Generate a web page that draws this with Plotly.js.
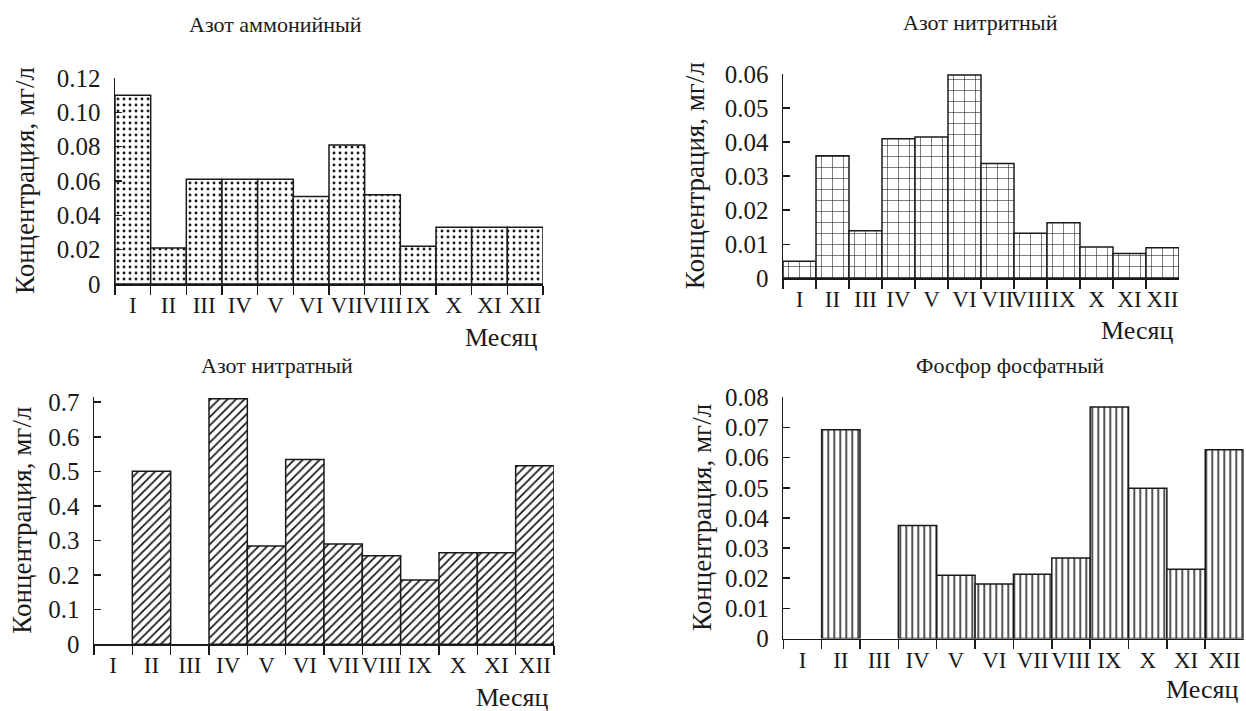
<!DOCTYPE html>
<html>
<head>
<meta charset="utf-8">
<script src="https://cdn.plot.ly/plotly-3.0.1.min.js"></script>
<style>html,body{margin:0;padding:0;background:#fff;}#chart{width:1246px;height:711px;}</style>
</head>
<body>
<div id="chart"></div>
<script>
const months = ['I','II','III','IV','V','VI','VII','VIII','IX','X','XI','XII'];
const ammonium = [0.110,0.021,0.061,0.061,0.061,0.051,0.081,0.052,0.022,0.033,0.033,0.033];
const nitrite = [0.005,0.036,0.014,0.041,0.0415,0.0597,0.0337,0.0132,0.0163,0.0092,0.0073,0.009];
const nitrate = [null,0.50,null,0.71,0.284,0.534,0.29,0.256,0.186,0.265,0.265,0.516];
const phosphate = [null,0.0692,null,0.0375,0.021,0.0181,0.0213,0.0267,0.0768,0.0498,0.023,0.0626];

const titles = ['Азот аммонийный','Азот нитритный','Азот нитратный','Фосфор фосфатный'];
const yTitle = 'Концентрация, мг/л';
const xTitle = 'Месяц';

const ticks1 = [0,0.02,0.04,0.06,0.08,0.10,0.12];
const tickText1 = ['0','0.02','0.04','0.06','0.08','0.10','0.12'];
const ticks2 = [0,0.01,0.02,0.03,0.04,0.05,0.06];
const tickText2 = ['0','0.01','0.02','0.03','0.04','0.05','0.06'];
const ticks3 = [0,0.1,0.2,0.3,0.4,0.5,0.6,0.7];
const tickText3 = ['0','0.1','0.2','0.3','0.4','0.5','0.6','0.7'];
const ticks4 = [0,0.01,0.02,0.03,0.04,0.05,0.06,0.07,0.08];
const tickText4 = ['0','0.01','0.02','0.03','0.04','0.05','0.06','0.07','0.08'];

const W = 1246, H = 711;
const FONT = 'Liberation Serif, Times New Roman, serif';
const ink = '#1a1a1a';

function px(x){return x/W;}
function py(y){return 1-y/H;}

const panels = [
  {vals: ammonium, x0:115, x1:543, yb:284, yt:78, range:[0,0.12], tv:ticks1, tt:tickText1,
   pat:{shape:'.', size:6, solidity:0.18}, titleX:275, titleY:25, yTitleX:25, xTitleY:337},
  {vals: nitrite, x0:783, x1:1179, yb:278.3, yt:74, range:[0,0.06], tv:ticks2, tt:tickText2,
   pat:{shape:'+', size:11, solidity:0.1}, titleX:980, titleY:22, yTitleX:695, xTitleY:331},
  {vals: nitrate, x0:94, x1:554, yb:644.3, yt:397, range:[0,0.715], tv:ticks3, tt:tickText3,
   pat:{shape:'/', size:6, solidity:0.3}, titleX:277, titleY:365, yTitleX:22, xTitleY:697},
  {vals: phosphate, x0:783.3, x1:1243.6, yb:638.5, yt:397.3, range:[0,0.08], tv:ticks4, tt:tickText4,
   pat:{shape:'|', size:6, solidity:0.25}, titleX:1010, titleY:365, yTitleX:702, xTitleY:689}
];

const data = [];
const layout = {
  width: W, height: H,
  margin:{l:0,r:0,t:0,b:0},
  paper_bgcolor:'#fff', plot_bgcolor:'#fff',
  showlegend:false,
  font:{family:FONT, color:ink, size:22},
  annotations:[]
};

panels.forEach((p,i)=>{
  const n = i+1;
  const xa = n===1?'x':'x'+n, ya = n===1?'y':'y'+n;
  data.push({
    type:'bar', x: months, y: p.vals, xaxis: xa, yaxis: ya, width:1,
    marker:{color:'#fff', line:{color:ink, width:1.5},
      pattern:{shape:p.pat.shape, size:p.pat.size, solidity:p.pat.solidity, fgcolor:ink, bgcolor:'#fff', fillmode:'replace'}},
    hoverinfo:'x+y'
  });
  layout['xaxis'+(n===1?'':n)] = {
    domain:[px(p.x0), px(p.x1)], anchor: ya, type:'category',
    range:[-0.5,11.5], showline:true, linecolor:ink, linewidth:1.5,
    ticks:'outside', tickson:'boundaries', ticklen:9, tickcolor:ink, tickwidth:1.5,
    tickangle:0, showgrid:false, zeroline:false, tickfont:{family:FONT, size:23, color:ink},
    fixedrange:true
  };
  layout['yaxis'+(n===1?'':n)] = {
    domain:[py(p.yb), py(p.yt)], anchor: xa, range:p.range,
    tickmode:'array', tickvals:p.tv, ticktext:p.tt,
    showline:true, linecolor:ink, linewidth:1.5,
    ticks:'inside', ticklen:7, tickcolor:ink, tickwidth:1.5,
    showgrid:false, zeroline:false, ticklabelstandoff:8,
    tickfont:{family:FONT, size:25, color:ink}, fixedrange:true
  };
  layout.annotations.push({
    text:titles[i], xref:'paper', yref:'paper', x:px(p.titleX), y:py(p.titleY),
    xanchor:'center', yanchor:'middle', showarrow:false, font:{family:FONT, size:22, color:ink}
  });
  layout.annotations.push({
    text:yTitle, xref:'paper', yref:'paper', x:px(p.yTitleX), y:py((p.yb+p.yt)/2),
    xanchor:'center', yanchor:'middle', textangle:-90, showarrow:false, font:{family:FONT, size:27, color:ink}
  });
  layout.annotations.push({
    text:xTitle, xref:'paper', yref:'paper', x:px(p.x1-4), y:py(p.xTitleY),
    xanchor:'right', yanchor:'middle', showarrow:false, font:{family:FONT, size:26, color:ink}
  });
});

Plotly.newPlot('chart', data, layout, {displayModeBar:false, staticPlot:true});
</script>
</body>
</html>
